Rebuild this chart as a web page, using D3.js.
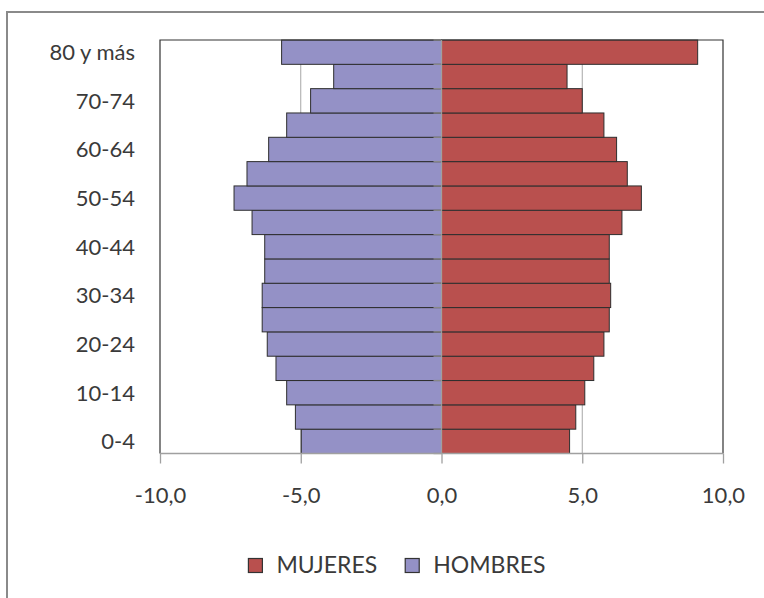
<!DOCTYPE html>
<html><head><meta charset="utf-8">
<script src="https://cdn.jsdelivr.net/npm/d3@7"></script>
<style>
html,body{margin:0;padding:0;background:#fff;}
svg{display:block;}
text{font-family:Lato, "Open Sans", sans-serif;fill:#3a3a3a;}
</style></head>
<body>
<svg id="chart" width="764" height="598"></svg>
<script>
// ---- data ----
const categories = ["0-4","5-9","10-14","15-19","20-24","25-29","30-34","35-39","40-44","45-49","50-54","55-59","60-64","65-69","70-74","75-79","80 y más"];
const hombres = [-4.98,-5.19,-5.50,-5.88,-6.19,-6.37,-6.37,-6.28,-6.28,-6.73,-7.37,-6.91,-6.14,-5.50,-4.65,-3.83,-5.68];
const mujeres = [4.55,4.77,5.09,5.41,5.77,5.96,6.01,5.96,5.96,6.41,7.10,6.60,6.22,5.77,5.00,4.46,9.10];
const xTicks = [-10,-5,0,5,10];
const seriesNames = ["MUJERES","HOMBRES"];
const seriesColors = ["#B9504E","#9491C6"];

const svg = d3.select("#chart");
const L = 160, R = 723, T = 40, B = 453.5;

// outer frame
svg.append("rect").attr("x",7).attr("y",12).attr("width",820).attr("height",700)
  .attr("fill","none").attr("stroke","#8a8a8a").attr("stroke-width",2);

const x = d3.scaleLinear().domain([-10,10]).range([L,R]);
const y = d3.scaleBand().domain(categories.slice().reverse()).range([T,B]).padding(0);

// gridlines
svg.append("g").selectAll("line").data(xTicks.filter(v=>v!==0 && Math.abs(v)!==10)).join("line")
  .attr("x1",d=>x(d)).attr("x2",d=>x(d)).attr("y1",T).attr("y2",B)
  .attr("stroke","#a6a6a6").attr("stroke-width",1);

// bars
const rows = categories.map((c,i)=>({c, h:hombres[i], m:mujeres[i]}));
const gb = svg.append("g");
gb.selectAll("rect.h").data(rows).join("rect").attr("class","h")
  .attr("x",d=>x(d.h)).attr("width",d=>x(0)-x(d.h))
  .attr("y",d=>y(d.c)).attr("height",y.bandwidth())
  .attr("fill",seriesColors[1]).attr("stroke","#2e2e2e").attr("stroke-width",1);
gb.selectAll("rect.m").data(rows).join("rect").attr("class","m")
  .attr("x",x(0)).attr("width",d=>x(d.m)-x(0))
  .attr("y",d=>y(d.c)).attr("height",y.bandwidth())
  .attr("fill",seriesColors[0]).attr("stroke","#2e2e2e").attr("stroke-width",1);

// plot border (left, top, right)
svg.append("path").attr("d",`M${L},${B}V${T}H${R}V${B}`)
  .attr("fill","none").attr("stroke","#333").attr("stroke-width",1.2);

// vertical category axis at zero
const x0 = x(0);
svg.append("line").attr("x1",x0).attr("x2",x0).attr("y1",T).attr("y2",B)
  .attr("stroke","#a0a0a0").attr("stroke-width",1.3);
const bounds = d3.range(categories.length+1).map(i=>T + i*y.step());
svg.append("g").selectAll("line").data(bounds).join("line")
  .attr("x1",x0-8).attr("x2",x0).attr("y1",d=>d).attr("y2",d=>d)
  .attr("stroke","#888").attr("stroke-width",1.3);

// category labels
const yAxis = d3.axisLeft(y).tickSize(0).tickPadding(0)
  .tickFormat(d=>categories.indexOf(d)%2===0 ? d : "");
const gy = svg.append("g").attr("transform",`translate(135,0)`).call(yAxis);
gy.select(".domain").remove();
gy.selectAll("text").attr("font-size",22).attr("font-family","Lato").attr("fill","#3a3a3a").attr("dy","0.36em");

// x axis
const loc = d3.formatLocale({decimal:",",thousands:".",grouping:[3],currency:["","€"],minus:"-"});
const fmt = loc.format(".1f");
const xAxis = d3.axisBottom(x).tickValues(xTicks).tickFormat(fmt).tickSize(10).tickPadding(24);
const gx = svg.append("g").attr("transform",`translate(0,${B})`).call(xAxis);
gx.select(".domain").attr("stroke","#a0a0a0").attr("stroke-width",1.5).attr("d",`M${L},0H${R}`);
gx.selectAll(".tick line").attr("stroke","#a0a0a0").attr("stroke-width",1.3);
gx.selectAll("text").attr("font-size",22).attr("font-family","Lato").attr("fill","#3a3a3a");

// legend
const lg = svg.append("g");
const fs = 23, sq = 14, gapT = 14, gapS = 28;
const items = seriesNames.map((n,i)=>({n, c:seriesColors[i]}));
const tmp = lg.append("text").attr("font-size",fs).attr("font-family","Lato");
items.forEach(it=>{tmp.text(it.n); it.w = tmp.node().getComputedTextLength();});
tmp.remove();
const total = d3.sum(items,d=>sq+gapT+d.w) + gapS*(items.length-1);
let cx = 397 - total/2;
items.forEach(it=>{
  lg.append("rect").attr("x",cx).attr("y",558.5).attr("width",sq).attr("height",sq)
    .attr("fill",it.c).attr("stroke","#333").attr("stroke-width",1.2);
  lg.append("text").attr("x",cx+sq+gapT).attr("y",572.5).attr("font-size",fs).attr("font-family","Lato").text(it.n);
  cx += sq+gapT+it.w+gapS;
});
</script>
</body></html>
